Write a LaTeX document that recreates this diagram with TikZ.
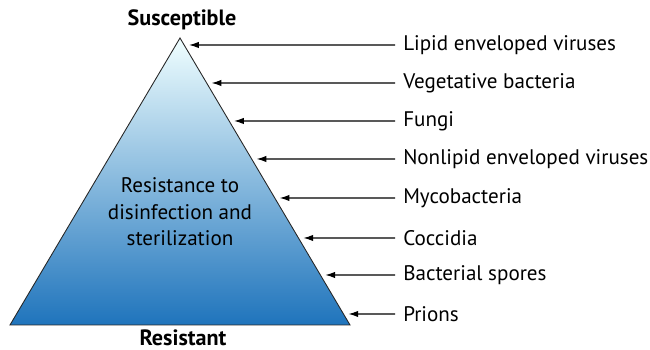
\documentclass[tikz,border=0pt]{standalone}
\usepackage{fontspec}
\setmainfont{PT Sans}
\usetikzlibrary{calc,arrows.meta}

\begin{document}
\begin{tikzpicture}[x=0.02cm, y=-0.02cm,
    label/.style={anchor=west, inner sep=0pt, inner xsep=4.5pt, font=\fontsize{12pt}{14pt}\selectfont},
    pointer/.style={-{Latex[length=5.5pt, width=3.6pt]}, line width=0.6pt}]
    \useasboundingbox (0,0) rectangle (650,350);
    \coordinate (A) at (180,38);
    \coordinate (L) at (10,325);
    \coordinate (R) at (350,325);
    \shade[top color=blue!4!cyan!6, bottom color={rgb,255:red,31;green,116;blue,188}]
        (A) -- (L) -- (R) -- cycle;
    \draw[line width=0.5pt, black!85] (A) -- (L) -- (R) -- cycle;
    \node[font=\bfseries\fontsize{12.6pt}{14pt}\selectfont] (top) at (182,20) {Susceptible};
    \node[font=\bfseries\fontsize{12.6pt}{14pt}\selectfont] (bottom) at (183,338) {Resistant};
    \node[align=center, font=\fontsize{12pt}{15pt}\selectfont] (mid) at (180,212)
        {Resistance to\\disinfection and\\sterilization};
    \foreach \y/\t [count=\i] in {45/Lipid enveloped viruses, 83/Vegetative bacteria, 121/Fungi,
        159/Nonlipid enveloped viruses, 198/Mycobacteria, 238/Coccidia,
        275/Bacterial spores, 314/Prions} {
        \node[label] (l\i) at (395,\y) {\t};
        \coordinate (t\i) at ($(A)!{(\y-38)/287}!(R) + (5,0)$);
        \draw[pointer] (l\i.west) -- (t\i);
    }
\end{tikzpicture}
\end{document}
